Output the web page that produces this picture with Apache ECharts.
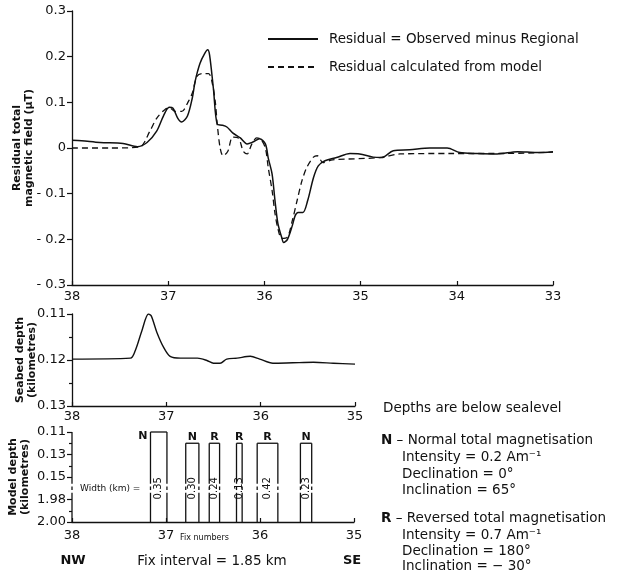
<!DOCTYPE html>
<html>
<head>
<meta charset="utf-8">
<script src="https://cdn.jsdelivr.net/npm/echarts@6/dist/echarts.min.js"></script>
<style>
html, body { margin: 0; padding: 0; background: #fff; }
#chart { width: 617px; height: 573px; }
</style>
</head>
<body>
<div id="chart"></div>
<script>
// 残差磁场 (fix number -> μT)
var observedFix = [38.0, 37.9, 37.71, 37.47, 37.32, 37.22, 37.12, 37.05, 36.99, 36.95, 36.9, 36.86, 36.8, 36.75, 36.72, 36.67, 36.62, 36.59, 36.57, 36.53, 36.49, 36.44, 36.39, 36.33, 36.25, 36.18, 36.12, 36.05, 35.99, 35.96, 35.92, 35.89, 35.86, 35.82, 35.8, 35.76, 35.71, 35.68, 35.65, 35.6, 35.55, 35.49, 35.44, 35.37, 35.25, 35.11, 35.01, 34.87, 34.78, 34.66, 34.49, 34.28, 34.1, 33.97, 33.79, 33.58, 33.37, 33.17, 33.0];
var observedVal = [0.017, 0.016, 0.012, 0.010, 0.003, 0.012, 0.037, 0.070, 0.089, 0.087, 0.065, 0.057, 0.070, 0.109, 0.146, 0.185, 0.207, 0.215, 0.204, 0.130, 0.052, 0.050, 0.046, 0.033, 0.022, 0.009, 0.013, 0.020, 0.009, -0.022, -0.057, -0.115, -0.165, -0.196, -0.207, -0.200, -0.170, -0.148, -0.141, -0.141, -0.115, -0.065, -0.039, -0.028, -0.021, -0.012, -0.013, -0.020, -0.021, -0.006, -0.004, 0.000, 0.000, -0.010, -0.012, -0.013, -0.008, -0.010, -0.008];
var modelFix = [38.0, 37.6, 37.3, 37.19, 37.12, 37.03, 36.98, 36.93, 36.86, 36.79, 36.75, 36.7, 36.65, 36.58, 36.54, 36.51, 36.49, 36.46, 36.43, 36.38, 36.33, 36.27, 36.22, 36.18, 36.13, 36.08, 36.04, 35.99, 35.96, 35.92, 35.89, 35.86, 35.82, 35.76, 35.71, 35.66, 35.61, 35.56, 35.49, 35.45, 35.39, 35.29, 34.8, 34.59, 34.07, 33.5, 33.0];
var modelVal = [0.000, 0.000, 0.002, 0.037, 0.065, 0.085, 0.087, 0.080, 0.080, 0.102, 0.120, 0.157, 0.163, 0.163, 0.140, 0.100, 0.052, 0.000, -0.017, -0.007, 0.024, 0.022, -0.007, -0.013, 0.009, 0.022, 0.020, 0.000, -0.043, -0.093, -0.143, -0.176, -0.198, -0.195, -0.159, -0.115, -0.072, -0.043, -0.020, -0.017, -0.032, -0.026, -0.021, -0.013, -0.012, -0.012, -0.009];
var fieldTickLabels = ['- 0.3', '- 0.2', '- 0.1', '0', '0.1', '0.2', '0.3'];

// 海底深度 (km)
var seabedFix = [38.0, 37.38, 37.33, 37.26, 37.19, 37.16, 37.1, 37.03, 36.96, 36.85, 36.67, 36.57, 36.5, 36.43, 36.36, 36.25, 36.11, 36.01, 35.87, 35.66, 35.44, 35.23, 35.0];
var seabedDepth = [0.1198, 0.1196, 0.1180, 0.1137, 0.1100, 0.1104, 0.1140, 0.1172, 0.1192, 0.1196, 0.1196, 0.1201, 0.1207, 0.1207, 0.1198, 0.1196, 0.1192, 0.1198, 0.1207, 0.1206, 0.1205, 0.1207, 0.1209];

// 模型块体
var blockStart = [37.165, 36.79, 36.54, 36.25, 36.03, 35.57];
var blockEnd = [36.99, 36.65, 36.43, 36.19, 35.81, 35.45];
var blockTop = [0.11, 0.12, 0.12, 0.12, 0.12, 0.12];
var blockBottom = 2.00;
var blockType = ['N', 'N', 'R', 'R', 'R', 'N'];
var blockWidth = ['0.35', '0.30', '0.24', '0.13', '0.42', '0.23'];
var depthTickLabels = ['0.11', '0.13', '0.15', '1.98', '2.00'];

var seriesNames = ['Residual = Observed minus Regional', 'Residual calculated from model'];

var FONT = 'DejaVu Sans';
var INK = '#111';

// 断轴: 0.11-0.15 与 1.98-2.00 各占一段
function depthToAxis(d) {
    return d <= 0.15 ? (d - 0.11) / 0.02 : 3 + (d - 1.98) / 0.02;
}

function pairs(xs, ys) {
    return xs.map(function (x, i) { return [x, ys[i]]; });
}

function vline(x, y1, y2) {
    return { type: 'line', shape: { x1: x, y1: y1, x2: x, y2: y2 }, style: { stroke: INK, lineWidth: 1.3 } };
}

// 带断口的竖线
function brokenSide(x, yTop, api) {
    var yFix = api.value(0);
    var a = api.coord([yFix, 2.3])[1];
    var b = api.coord([yFix, 2.42])[1];
    var c = api.coord([yFix, 2.58])[1];
    var d = api.coord([yFix, 2.7])[1];
    var bottom = api.coord([yFix, 4])[1];
    return [vline(x, yTop, a), vline(x, b, c), vline(x, d, bottom)];
}

function renderBlock(params, api) {
    var i = api.value(4);
    var tl = api.coord([api.value(0), api.value(2)]);
    var br = api.coord([api.value(1), api.value(3)]);
    var children = [];
    children.push({ type: 'line', shape: { x1: tl[0], y1: tl[1], x2: br[0], y2: tl[1] }, style: { stroke: INK, lineWidth: 1.3 } });
    children = children.concat(brokenSide(tl[0], tl[1], api), brokenSide(br[0], tl[1], api));
    var firstRow = api.value(2) < 0.01;
    children.push({
        type: 'text',
        x: firstRow ? tl[0] - 3 : (tl[0] + br[0]) / 2,
        y: tl[1] - 1,
        style: {
            text: blockType[i], font: 'bold 11px ' + FONT, fill: INK,
            align: firstRow ? 'right' : 'center', verticalAlign: firstRow ? 'top' : 'bottom'
        }
    });
    var midY = api.coord([api.value(0), 2.5])[1];
    children.push({
        type: 'text',
        x: (tl[0] + br[0]) / 2,
        y: midY,
        rotation: Math.PI / 2,
        style: { text: blockWidth[i], font: '10px ' + FONT, fill: INK, align: 'center', verticalAlign: 'middle' }
    });
    return { type: 'group', children: children };
}

function renderAxisLine(params, api) {
    var p = api.coord([api.value(0), 0]);
    return { type: 'group', children: brokenSide(p[0], p[1], api) };
}

var axisText = { color: INK, fontFamily: FONT, fontSize: 13 };
var axisLine = { onZero: false, lineStyle: { color: INK, width: 1.3 } };

function fixAxis(grid, min, margin) {
    return {
        type: 'value', gridIndex: grid, min: min, max: 38, interval: 1, inverse: true,
        axisLine: axisLine,
        axisTick: { inside: true, length: 4, lineStyle: { color: INK, width: 1.2 } },
        axisLabel: Object.assign({ margin: margin }, axisText),
        splitLine: { show: false }
    };
}

var titleStyle = { color: INK, fontFamily: FONT, fontSize: 11, fontWeight: 'bold', lineHeight: 12 };

var myChart = echarts.init(document.getElementById('chart'));
var option = {
    animation: false,
    backgroundColor: '#fff',
    grid: [
        { left: 72, top: 11, width: 481, height: 274, outerBoundsMode: 'none', containLabel: false },
        { left: 72, top: 314, width: 283, height: 92, outerBoundsMode: 'none', containLabel: false },
        { left: 72, top: 432, width: 282, height: 90, outerBoundsMode: 'none', containLabel: false }
    ],
    legend: {
        orient: 'vertical', left: 262, top: 27,
        itemWidth: 50, itemHeight: 14, itemGap: 14,
        itemStyle: { opacity: 0 },
        textStyle: { color: INK, fontFamily: FONT, fontSize: 13.5, padding: [0, 0, 0, 6] },
        data: seriesNames
    },
    xAxis: [fixAxis(0, 33, 5), fixAxis(1, 35, 4), fixAxis(2, 35, 7)],
    yAxis: [
        {
            type: 'value', gridIndex: 0, min: -0.3, max: 0.3, interval: 0.1,
            name: 'Residual total\nmagnetic field (\u03bcT)', nameLocation: 'middle', nameGap: 37, nameMoveOverlap: false, nameTextStyle: titleStyle,
            axisLine: axisLine,
            axisTick: { show: true, length: 5, lineStyle: { color: INK, width: 1.2 } },
            axisLabel: Object.assign({ margin: 6, formatter: function (v) { return fieldTickLabels[Math.round(v * 10) + 3]; } }, axisText),
            splitLine: { show: false }
        },
        {
            type: 'value', gridIndex: 1, min: 0.11, max: 0.13, interval: 0.01, inverse: true,
            name: 'Seabed depth\n(kilometres)', nameLocation: 'middle', nameGap: 34, nameMoveOverlap: false, nameTextStyle: titleStyle,
            axisLine: axisLine,
            axisTick: { show: true, length: 5, lineStyle: { color: INK, width: 1.2 } },
            minorTick: { show: true, splitNumber: 2, length: 3, lineStyle: { color: INK, width: 1.2 } },
            axisLabel: Object.assign({ margin: 6, formatter: function (v) { return v.toFixed(2); } }, axisText),
            splitLine: { show: false }
        },
        {
            type: 'value', gridIndex: 2, min: 0, max: 4, interval: 1, inverse: true,
            name: 'Model depth\n(kilometres)', nameLocation: 'middle', nameGap: 41, nameMoveOverlap: false, nameTextStyle: titleStyle,
            axisLine: { show: false },
            axisTick: { show: true, length: 5, lineStyle: { color: INK, width: 1.2 } },
            axisLabel: Object.assign({ margin: 6, formatter: function (v) { return depthTickLabels[v]; } }, axisText),
            splitLine: { show: false }
        },
        {
            type: 'value', gridIndex: 2, min: 0, max: 4, inverse: true, position: 'left',
            axisLine: { show: false },
            axisTick: { show: true, length: 3, customValues: [0.5, 1.5, 3.5], lineStyle: { color: INK, width: 1.2 } },
            axisLabel: { show: false },
            splitLine: { show: false }
        }
    ],
    series: [
        {
            name: seriesNames[0], type: 'line', xAxisIndex: 0, yAxisIndex: 0,
            data: pairs(observedFix, observedVal), smooth: 0.3, symbol: 'none',
            lineStyle: { color: INK, width: 1.5 }, itemStyle: { color: INK }
        },
        {
            name: seriesNames[1], type: 'line', xAxisIndex: 0, yAxisIndex: 0,
            data: pairs(modelFix, modelVal), smooth: 0.3, symbol: 'none',
            lineStyle: { color: INK, width: 1.3, type: [6, 4] }, itemStyle: { color: INK }
        },
        {
            type: 'line', xAxisIndex: 1, yAxisIndex: 1,
            data: pairs(seabedFix, seabedDepth), smooth: 0.3, symbol: 'none',
            lineStyle: { color: INK, width: 1.4 }
        },
        {
            type: 'custom', xAxisIndex: 2, yAxisIndex: 2, renderItem: renderBlock,
            data: blockStart.map(function (s, i) {
                return [s, blockEnd[i], depthToAxis(blockTop[i]), depthToAxis(blockBottom), i];
            })
        },
        {
            type: 'custom', xAxisIndex: 2, yAxisIndex: 2, renderItem: renderAxisLine,
            data: [[38]]
        }
    ],
    graphic: []
};

// 右侧说明文字
var notes = [
    { text: 'Depths are below sealevel', x: 383, y: 408 },
    { text: '{b|N} \u2013 Normal total magnetisation', x: 381, y: 440 },
    { text: 'Intensity = 0.2 Am\u207b\u00b9', x: 402, y: 457 },
    { text: 'Declination = 0\u00b0', x: 402, y: 474 },
    { text: 'Inclination = 65\u00b0', x: 402, y: 490 },
    { text: '{b|R} \u2013 Reversed total magnetisation', x: 381, y: 518 },
    { text: 'Intensity = 0.7 Am\u207b\u00b9', x: 402, y: 535 },
    { text: 'Declination = 180\u00b0', x: 402, y: 551 },
    { text: 'Inclination = \u2212 30\u00b0', x: 402, y: 566 }
];
notes.forEach(function (n) {
    option.graphic.push({
        type: 'text', x: n.x, y: n.y,
        style: {
            text: n.text, font: '13.5px ' + FONT, fill: INK, verticalAlign: 'middle',
            rich: { b: { fontWeight: 'bold', fontSize: 13.5, fontFamily: FONT, fill: INK } }
        }
    });
});

var captions = [
    { text: 'NW', x: 73, y: 561, font: 'bold 13px ' + FONT, align: 'center' },
    { text: 'Fix interval = 1.85 km', x: 212, y: 561, font: '13.5px ' + FONT, align: 'center' },
    { text: 'SE', x: 352, y: 561, font: 'bold 13px ' + FONT, align: 'center' },
    { text: 'Fix numbers', x: 180, y: 538, font: '8px ' + FONT, align: 'left' },
    { text: 'Width (km) =', x: 80, y: 489, font: '9px ' + FONT, align: 'left' }
];
captions.forEach(function (c) {
    option.graphic.push({
        type: 'text', x: c.x, y: c.y,
        style: { text: c.text, font: c.font, fill: INK, align: c.align, verticalAlign: 'middle' }
    });
});

myChart.setOption(option);
</script>
</body>
</html>
